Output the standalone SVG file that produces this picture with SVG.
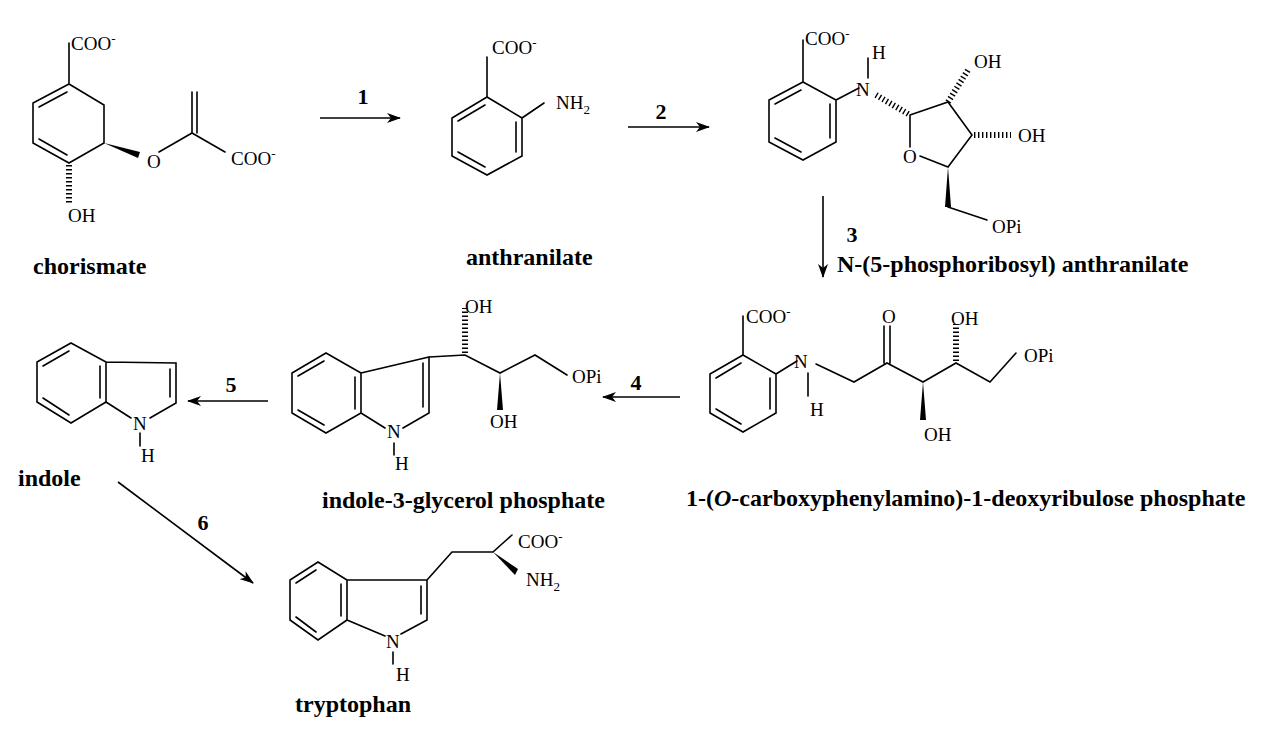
<svg xmlns="http://www.w3.org/2000/svg" width="1269" height="729" viewBox="0 0 1269 729">
<style>
.b{stroke:#000;stroke-width:1.6;fill:none;stroke-linecap:round}
.h{stroke:#000;stroke-width:6;stroke-dasharray:1.4 2.6;fill:none}
.w{fill:#000;stroke:none}
.a{font-family:"Liberation Serif",serif;font-size:19px;fill:#000}
.l{font-family:"Liberation Serif",serif;font-size:24px;font-weight:bold;fill:#000}
.n{font-family:"Liberation Serif",serif;font-size:22px;font-weight:bold;fill:#000}
.s{font-size:13px}
.c{stroke:#000;stroke-width:1.6;fill:none}
</style>
<defs>
<marker id="ar" viewBox="0 0 14 10" refX="13" refY="5" markerWidth="14" markerHeight="10" markerUnits="userSpaceOnUse" orient="auto">
<path d="M0,0 L14,5 L0,10 L4,5 Z" fill="#000"/>
</marker>
</defs>
<rect width="1269" height="729" fill="#fff"/>

<g id="chorismate">
<path class="b" d="M69,84 L104,105 L104,143 L69,163 L33,143 L33,103 Z M67,92 L39,107 M39,139 L67,155 M69,84 L69,43"/>
<polygon class="w" points="104,143 140,152 138,158"/>
<path class="b" d="M159,152 L192,133 L225,152 M192,133 L192,92 M197,133 L197,92"/>
<path class="h" d="M69,165 L69,203"/>
<text class="a" x="71" y="50">COO<tspan class="s" dy="-7">-</tspan></text>
<text class="a" x="147" y="168">O</text>
<text class="a" x="231" y="165">COO<tspan class="s" dy="-7">-</tspan></text>
<text class="a" x="68" y="222">OH</text>
<text class="l" x="33" y="274">chorismate</text>
</g>

<g id="anthranilate">
<path class="b" d="M487,97 L522,118 L522,156 L487,175 L452,156 L452,118 Z M485,105 L458,121 M516,122 L516,152 M485,167 L458,152 M487,97 L487,57 M522,118 L544,103"/>
<text class="a" x="492" y="54">COO<tspan class="s" dy="-7">-</tspan></text>
<text class="a" x="556" y="109">NH<tspan class="s" dy="5">2</tspan></text>
<text class="l" x="466" y="265">anthranilate</text>
</g>

<g id="npra">
<path class="b" d="M803,82 L836,100 L836,142 L803,160 L769,142 L769,100 Z M801,90 L775,104 M830,104 L830,138 M801,152 L775,138 M803,82 L803,40 M836,100 L859,88 M868,78 L868,58"/>
<path class="h" d="M876,95 L910,115"/>
<path class="b" d="M910,115 L948,102 L972,135 L948,167 L920,156 M910,115 L910,147"/>
<path class="h" d="M948,102 L968,70"/>
<path class="h" d="M974,135 L1011,135"/>
<polygon class="w" points="948,167 945,207 951,207"/>
<path class="b" d="M948,207 L987,220"/>
<text class="a" x="805" y="45">COO<tspan class="s" dy="-7">-</tspan></text>
<text class="a" x="856" y="96">N</text>
<text class="a" x="872" y="59">H</text>
<text class="a" x="903" y="163">O</text>
<text class="a" x="974" y="68">OH</text>
<text class="a" x="1018" y="142">OH</text>
<text class="a" x="992" y="233">OPi</text>
<text class="l" x="837" y="272">N-(5-phosphoribosyl) anthranilate</text>
</g>

<g id="cdrp">
<path class="b" d="M743,355 L776,374 L776,413 L743,432 L710,413 L710,374 Z M741,363 L716,378 M770,378 L770,409 M741,424 L716,409 M743,355 L743,316 M776,374 L797,361 M808,373 L808,396 M816,364 L854,382 L887,363 L923,382 L956,363 L990,382 L1016,353 M884,363 L884,326 M890,363 L890,326"/>
<polygon class="w" points="923,382 920,420 926,420"/>
<path class="h" d="M956,361 L956,324"/>
<text class="a" x="746" y="323">COO<tspan class="s" dy="-7">-</tspan></text>
<text class="a" x="794" y="368">N</text>
<text class="a" x="810" y="416">H</text>
<text class="a" x="882" y="323">O</text>
<text class="a" x="924" y="441">OH</text>
<text class="a" x="951" y="325">OH</text>
<text class="a" x="1024" y="362">OPi</text>
<text class="l" x="686" y="506">1-(<tspan font-style="italic">O</tspan>-carboxyphenylamino)-1-deoxyribulose phosphate</text>
</g>

<g id="igp">
<path class="b" d="M326,353 L361,373 L361,413 L326,433 L292,413 L292,373 Z M324,361 L298,376 M355,377 L355,409 M324,425 L298,410 M361,373 L429,357 L429,413 L403,428 M361,413 L385,428 M423,363 L423,407 M394,443 L394,455 M429,357 L465,355 L500,373 L535,355 L567,375"/>
<path class="h" d="M465,353 L465,308"/>
<polygon class="w" points="500,373 497,410 503,410"/>
<text class="a" x="387" y="438">N</text>
<text class="a" x="395" y="470">H</text>
<text class="a" x="465" y="313">OH</text>
<text class="a" x="490" y="428">OH</text>
<text class="a" x="572" y="383">OPi</text>
<text class="l" x="322" y="508">indole-3-glycerol phosphate</text>
</g>

<g id="indole">
<path class="b" d="M71,343 L106,362 L106,402 L71,423 L37,402 L37,362 Z M69,351 L43,366 M100,366 L100,398 M69,415 L43,398 M106,362 L176,363 L176,403 L150,418 M106,402 L131,418 M170,369 L170,397 M140,433 L140,446"/>
<text class="a" x="133" y="430">N</text>
<text class="a" x="141" y="462">H</text>
<text class="l" x="18" y="486">indole</text>
</g>

<g id="tryptophan">
<path class="b" d="M318,562 L347,580 L347,620 L318,640 L290,620 L290,580 Z M316,570 L296,583 M341,584 L341,616 M316,632 L296,617 M347,580 L427,580 L427,620 L401,634 M347,620 L385,636 M421,586 L421,614 M393,652 L393,664 M427,580 L452,552 L493,552 L512,535"/>
<polygon class="w" points="493,552 518,569 515,575"/>
<text class="a" x="386" y="648">N</text>
<text class="a" x="396" y="681">H</text>
<text class="a" x="518" y="548">COO<tspan class="s" dy="-7">-</tspan></text>
<text class="a" x="526" y="586">NH<tspan class="s" dy="5">2</tspan></text>
<text class="l" x="295" y="712">tryptophan</text>
</g>

<g id="connectors">
<line class="c" x1="320" y1="118" x2="400" y2="118" marker-end="url(#ar)"/>
<line class="c" x1="628" y1="127" x2="709" y2="127" marker-end="url(#ar)"/>
<line class="c" x1="823" y1="196" x2="823" y2="277" marker-end="url(#ar)"/>
<line class="c" x1="680" y1="397" x2="603" y2="397" marker-end="url(#ar)"/>
<line class="c" x1="268" y1="401" x2="188" y2="401" marker-end="url(#ar)"/>
<line class="c" x1="118" y1="482" x2="253" y2="583" marker-end="url(#ar)"/>
<text class="n" x="363" y="104" text-anchor="middle">1</text>
<text class="n" x="661" y="119" text-anchor="middle">2</text>
<text class="n" x="852" y="242" text-anchor="middle">3</text>
<text class="n" x="636" y="390" text-anchor="middle">4</text>
<text class="n" x="231" y="392" text-anchor="middle">5</text>
<text class="n" x="203" y="530" text-anchor="middle">6</text>
</g>
</svg>
